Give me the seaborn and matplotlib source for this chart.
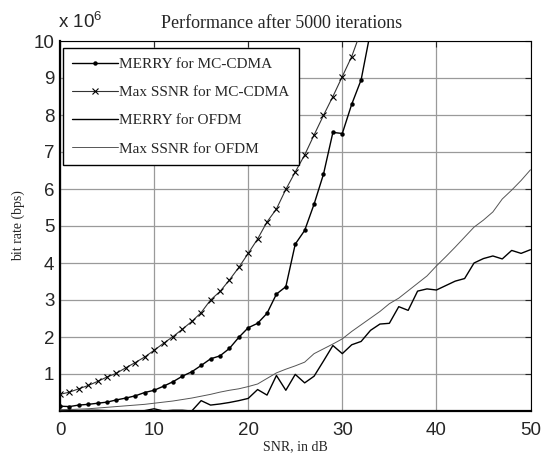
import numpy as np
import pandas as pd
import matplotlib
matplotlib.use("Agg")
import matplotlib.pyplot as plt
import seaborn as sns

# ---------------- data (bit rate in units of 10^6 bps) ----------------
snr_merry_mc = list(range(0, 34))
merry_mc = [0.13, 0.12, 0.16, 0.18, 0.21, 0.24, 0.30, 0.35, 0.41, 0.50,
            0.56, 0.67, 0.79, 0.94, 1.06, 1.23, 1.41, 1.49, 1.69, 1.99,
            2.25, 2.37, 2.64, 3.16, 3.36, 4.51, 4.88, 5.59, 6.40, 7.53,
            7.50, 8.29, 8.95, 10.26]

snr_ssnr_mc = list(range(0, 33))
ssnr_mc = [0.45, 0.51, 0.60, 0.69, 0.80, 0.92, 1.02, 1.17, 1.31, 1.46,
           1.64, 1.83, 2.01, 2.21, 2.42, 2.66, 3.00, 3.23, 3.54, 3.88,
           4.26, 4.65, 5.11, 5.46, 5.99, 6.46, 6.92, 7.46, 7.99, 8.50,
           9.04, 9.58, 10.28]

snr_ofdm = list(range(0, 51))
merry_ofdm = [0.02, 0.02, 0.01, 0.02, 0.02, 0.01, 0.00, 0.01, 0.00, 0.01,
              0.06, 0.00, 0.02, 0.02, 0.00, 0.28, 0.16, 0.19, 0.23, 0.28,
              0.34, 0.58, 0.43, 0.96, 0.56, 0.99, 0.76, 0.94, 1.35, 1.77,
              1.55, 1.79, 1.88, 2.18, 2.35, 2.37, 2.82, 2.72, 3.24, 3.30,
              3.27, 3.39, 3.51, 3.58, 4.00, 4.12, 4.19, 4.11, 4.34, 4.26,
              4.36]
ssnr_ofdm = [0.03, 0.04, 0.05, 0.06, 0.08, 0.10, 0.12, 0.14, 0.16, 0.18,
             0.21, 0.24, 0.27, 0.31, 0.35, 0.40, 0.45, 0.51, 0.56, 0.60,
             0.66, 0.73, 0.88, 1.03, 1.13, 1.22, 1.32, 1.55, 1.68, 1.81,
             1.95, 2.15, 2.33, 2.51, 2.69, 2.90, 3.05, 3.25, 3.45, 3.65,
             3.92, 4.17, 4.43, 4.70, 4.97, 5.16, 5.38, 5.73, 5.97, 6.23,
             6.52]

labels = ["MERRY for MC-CDMA", "Max SSNR for MC-CDMA",
          "MERRY for OFDM", "Max SSNR for OFDM"]
x_ticks = [0, 10, 20, 30, 40, 50]
y_ticks = [1, 2, 3, 4, 5, 6, 7, 8, 9, 10]

# ---------------- style ----------------
sns.set_style("white")
plt.rcParams["font.family"] = ["Liberation Serif", "DejaVu Serif"]
plt.rcParams["mathtext.fontset"] = "custom"
plt.rcParams["mathtext.rm"] = "Liberation Sans"
plt.rcParams["mathtext.it"] = "Liberation Sans"

fig = plt.figure(figsize=(5.44, 4.55), dpi=100)
ax = fig.add_axes([60 / 544, 1 - 411 / 455, 470.5 / 544, 370 / 455])

sns.lineplot(x=snr_merry_mc, y=merry_mc, ax=ax, color="black", lw=1.0,
             marker="o", markersize=3.2, markeredgewidth=0,
             label=labels[0], zorder=4)
sns.lineplot(x=snr_ssnr_mc, y=ssnr_mc, ax=ax, color="#333333", lw=0.8,
             marker="x", markersize=5, markeredgewidth=0.8,
             markeredgecolor="black", label=labels[1], zorder=4)
sns.lineplot(x=snr_ofdm, y=merry_ofdm, ax=ax, color="black", lw=1.0,
             label=labels[2], zorder=3)
sns.lineplot(x=snr_ofdm, y=ssnr_ofdm, ax=ax, color="#555555", lw=0.7,
             label=labels[3], zorder=3)

ax.set_xlim(0, 50)
ax.set_ylim(0, 10)
ax.set_xticks(x_ticks)
ax.set_yticks(y_ticks)
ax.grid(True, color="#9a9a9a", lw=0.9)
ax.tick_params(direction="in", length=4, top=True, right=True,
               labelsize=13.5, width=0.8)
ax.tick_params(axis="x", pad=8)
ax.tick_params(axis="y", pad=4)
for lab in ax.get_xticklabels() + ax.get_yticklabels():
    lab.set_family("Liberation Sans")

for s in ["left", "bottom"]:
    ax.spines[s].set_linewidth(1.6)
for s in ["top", "right"]:
    ax.spines[s].set_linewidth(0.8)
for s in ax.spines.values():
    s.set_color("black")

ax.set_title("Performance after 5000 iterations", fontsize=13, x=0.471, pad=9)
ax.set_xlabel("SNR, in dB", fontsize=10, labelpad=1)
ax.set_ylabel("bit rate (bps)", fontsize=10, labelpad=6)

fig.text(58 / 544, 1 - 28 / 455, r"x 10$^{6}$", fontsize=13.5,
         family="Liberation Sans", ha="left", va="baseline")

leg = ax.legend(loc="upper left", bbox_to_anchor=(0.006, 0.981),
                borderaxespad=0, fontsize=11, frameon=True, fancybox=False,
                edgecolor="black", framealpha=1, handlelength=3.0,
                handletextpad=0.1, labelspacing=0.95, borderpad=0.6)
leg.get_frame().set_linewidth(1.0)

fig.savefig("out.png", dpi=100)
